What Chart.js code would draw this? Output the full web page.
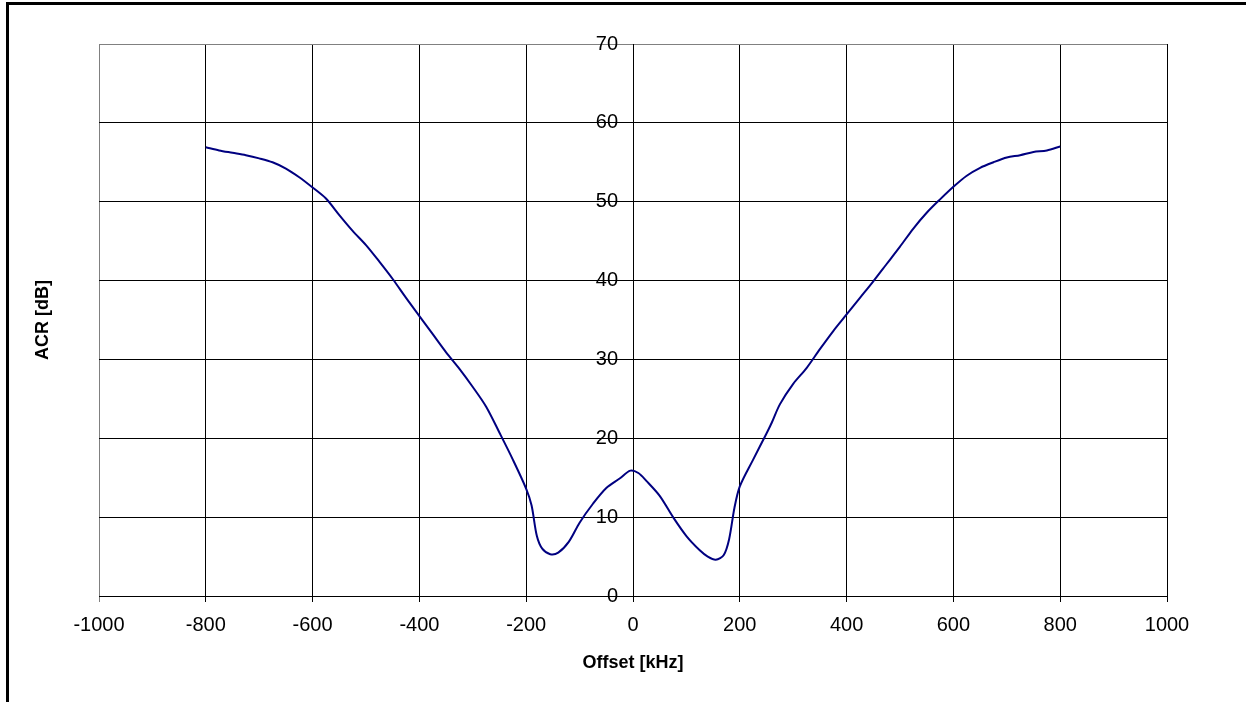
<!DOCTYPE html>
<html>
<head>
<meta charset="utf-8">
<script src="https://cdn.jsdelivr.net/npm/chart.js@4/dist/chart.umd.min.js"></script>
<style>
  html, body { margin: 0; padding: 0; background: #fff; overflow: hidden; }
  #frame { position: absolute; left: 6px; top: 2px; width: 1400px; height: 900px; border: 3px solid #000; }
  #wrap { position: absolute; left: 0; top: 0; width: 1246px; height: 702px; }
</style>
</head>
<body>
<div id="frame"></div>
<div id="wrap"><canvas id="chart" width="1246" height="702"></canvas></div>
<script>
// offset in kHz, ACR in dB
const offsets = [
  -800, -775, -750, -725, -700, -675, -650, -625, -600, -575, -550, -525, -500,
  -475, -450, -425, -400, -375, -350, -325, -300, -275, -250, -225, -200, -190,
  -180, -170, -155, -140, -120, -100, -75, -50, -25, -5, 10, 25, 50, 75, 100,
  125, 140, 155, 170, 180, 190, 200, 225, 250, 260, 275, 300, 325, 350, 375,
  400, 425, 450, 475, 500, 525, 550, 575, 600, 625, 650, 675, 700, 725, 750,
  775, 800
];
const acr = [
  56.9, 56.5, 56.2, 55.9, 55.5, 55.0, 54.2, 53.1, 51.8, 50.4, 48.3, 46.3, 44.5,
  42.4, 40.2, 37.8, 35.5, 33.2, 30.9, 28.8, 26.5, 24.0, 20.7, 17.3, 13.6, 11.5,
  7.6, 6.0, 5.3, 5.5, 6.9, 9.3, 11.7, 13.7, 14.9, 15.9, 15.6, 14.6, 12.7, 10.0, 7.6,
  5.8, 5.0, 4.6, 5.2, 7.2, 11.2, 13.9, 17.3, 20.6, 22.0, 24.3, 26.9, 28.9, 31.3, 33.6,
  35.7, 37.8, 39.9, 42.1, 44.3, 46.6, 48.6, 50.3, 51.9, 53.3, 54.3, 55.0, 55.6, 55.9, 56.3,
  56.5, 57.0
];
const xTicks = [-1000, -800, -600, -400, -200, 0, 200, 400, 600, 800, 1000];
const yTicks = [0, 10, 20, 30, 40, 50, 60, 70];

const fontFamily = '"Liberation Sans", Arial, sans-serif';
const points = offsets.map((o, i) => ({ x: o, y: acr[i] }));

new Chart(document.getElementById('chart').getContext('2d'), {
  type: 'line',
  data: {
    datasets: [{
      label: 'ACR',
      data: points,
      borderColor: '#000080',
      borderWidth: 2,
      pointRadius: 0,
      fill: false,
      tension: 0.3
    }]
  },
  options: {
    responsive: false,
    animation: false,
    layout: { padding: { top: 44, right: 79, bottom: 16, left: 0 } },
    plugins: { legend: { display: false }, tooltip: { enabled: false } },
    scales: {
      x: {
        type: 'linear',
        position: 'bottom',
        min: xTicks[0],
        max: xTicks[xTicks.length - 1],
        afterBuildTicks: (s) => { s.ticks = xTicks.map(v => ({ value: v })); },
        afterFit: (s) => { s.height = 90; },
        grid: {
          color: (c) => c.tick && c.tick.value === xTicks[0] ? '#808080' : '#000',
          lineWidth: 1,
          tickLength: 6
        },
        border: { color: '#000', width: 1 },
        ticks: {
          color: '#000',
          padding: 11,
          font: { family: fontFamily, size: 20 },
          callback: (v) => String(v)
        },
        title: {
          display: true,
          text: 'Offset [kHz]',
          color: '#000',
          padding: { top: 0, bottom: 12 },
          font: { family: fontFamily, size: 18, weight: 'bold' }
        }
      },
      y: {
        type: 'linear',
        position: 'center', // chart area is symmetric, so centre = offset 0
        min: yTicks[0],
        max: yTicks[yTicks.length - 1],
        afterBuildTicks: (s) => { s.ticks = yTicks.map(v => ({ value: v })); },
        grid: {
          color: (c) => c.tick && c.tick.value === yTicks[yTicks.length - 1] ? '#808080' : '#000',
          lineWidth: 1,
          tickLength: 6
        },
        border: { color: '#000', width: 1 },
        ticks: { color: '#000', padding: 9, font: { family: fontFamily, size: 20 } }
      },
      yTitle: {
        type: 'linear',
        position: 'left',
        min: 0,
        max: 70,
        afterFit: (s) => { s.width = 99; },
        grid: { display: false },
        border: { display: false },
        ticks: { display: false },
        title: {
          display: true,
          text: 'ACR [dB]',
          color: '#000',
          padding: { top: 32, bottom: 0 },
          font: { family: fontFamily, size: 18, weight: 'bold' }
        }
      }
    }
  }
});
</script>
</body>
</html>
